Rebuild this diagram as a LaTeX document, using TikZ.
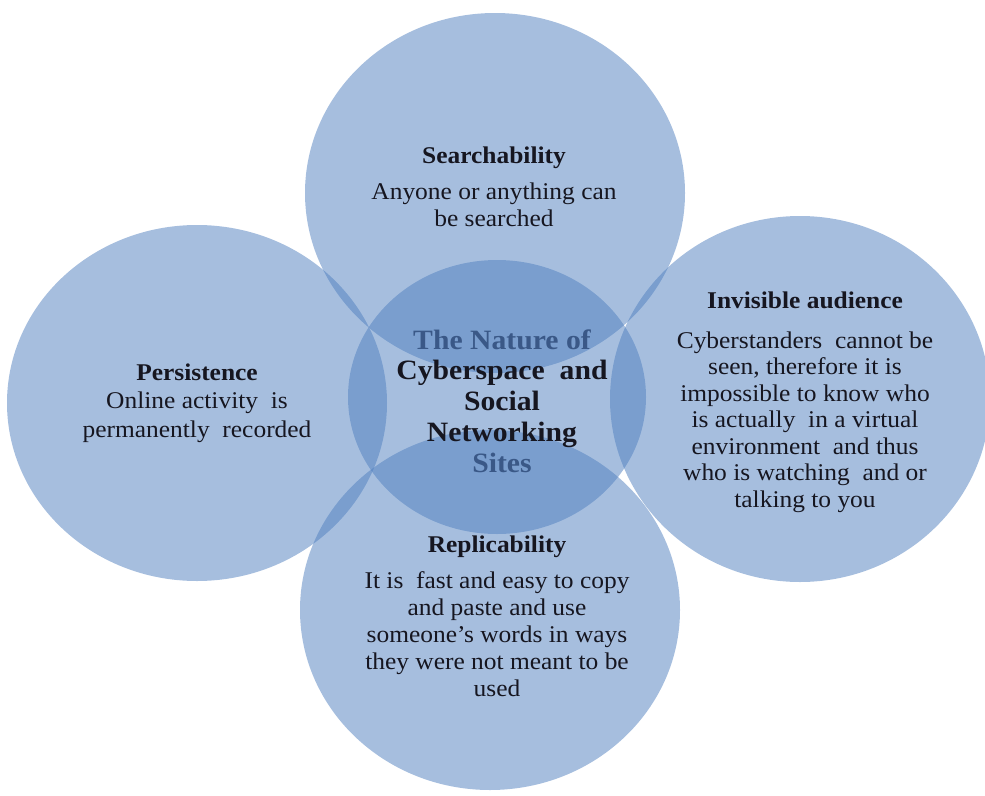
\documentclass[tikz,border=0pt]{standalone}
\usepackage{fontspec}
\setmainfont{Liberation Serif}[FakeStretch=1.06]
\definecolor{circblue}{RGB}{78,126,190}
\definecolor{titleblue}{RGB}{58,88,135}
\definecolor{inkdark}{RGB}{22,22,32}
\tikzset{
  bubble/.style={fill=circblue, fill opacity=0.5, draw=none},
  bodytext/.style={align=center, anchor=base, inner sep=0pt, text=inkdark,
    font=\fontsize{24}{27}\selectfont},
  centertext/.style={align=center, anchor=base, inner sep=0pt, text=inkdark,
    font=\fontsize{28}{30.75}\selectfont\bfseries}
}
\begin{document}
\begin{tikzpicture}[x=1pt,y=-1pt]
\useasboundingbox (0,0) rectangle (985,795);
% outer circles
\fill[bubble] (495,193) ellipse [x radius=190, y radius=180];
\fill[bubble] (197,403) ellipse [x radius=190, y radius=178];
\fill[bubble] (800,399) ellipse [x radius=190, y radius=183];
\fill[bubble] (490,610) ellipse [x radius=190, y radius=180];
% centre circle
\fill[bubble] (497,397) ellipse [x radius=149, y radius=137];
% texts (anchor base = baseline of last line)
\node[bodytext] (search) at (494,226) {\textbf{Searchability}\\[9pt]Anyone or anything can\\be searched};
\node[bodytext, font=\fontsize{24}{28.5}\selectfont] (persist) at (197,437) {\textbf{Persistence}\\Online activity\ \ is\\permanently\ \ recorded};
\node[bodytext, font=\fontsize{24}{26.5}\selectfont] (invis) at (805,507) {\textbf{Invisible audience}\\[13pt]Cyberstanders\ \ cannot be\\seen, therefore\ it is\\impossible to know who\\is actually\ \ in a virtual\\environment\ \ and thus\\who is watching\ \ and or\\talking to you};
\node[bodytext] (replic) at (497,696) {\textbf{Replicability}\\[9pt]It is\ \ fast and easy to copy\\and paste and use\\someone’s words in ways\\they were not meant to be\\used};
\node[centertext] (nature) at (502,472) {\textcolor{titleblue}{The Nature of}\\Cyberspace\ \ and\\Social\\Networking\\\textcolor{titleblue}{Sites}};
\end{tikzpicture}
\end{document}
